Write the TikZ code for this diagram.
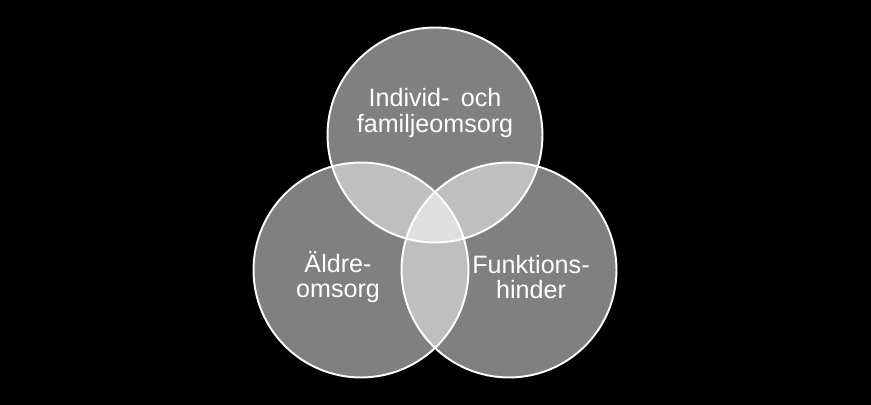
\documentclass[tikz,border=0pt]{standalone}
\usepackage{fontspec}
\setmainfont{Liberation Sans}
\usetikzlibrary{positioning}

\tikzset{
    vennfill/.style={circle, minimum size=4.3cm, inner sep=0pt, fill=white, fill opacity=0.5},
    vennline/.style={circle, minimum size=4.3cm, inner sep=0pt, draw=white, line width=1.1pt},
    venntext/.style={text=white, align=center, font=\fontsize{14.3}{14.4}\selectfont}
}

\begin{document}
\begin{tikzpicture}[x=0.02cm, y=-0.02cm]
    % Background
    \fill[black] (0,0) rectangle (871,405);

    % Circles (fill first, outlines on top)
    \node[vennfill] (indiv) at (435,135) {};
    \node[vennfill] (aldre) at (361,270) {};
    \node[vennfill] (funk)  at (509,270) {};
    \foreach \c in {indiv,aldre,funk}
        \node[vennline] at (\c) {};

    % Labels
    \node[venntext] (indivlbl) at (435,113) {Individ-\hspace{0.45em}och\\familjeomsorg};
    \node[venntext] (aldrelbl) at (338,277) {Äldre-\\omsorg};
    \node[venntext] (funklbl)  at (531,277) {Funktions-\\hinder};
\end{tikzpicture}
\end{document}
